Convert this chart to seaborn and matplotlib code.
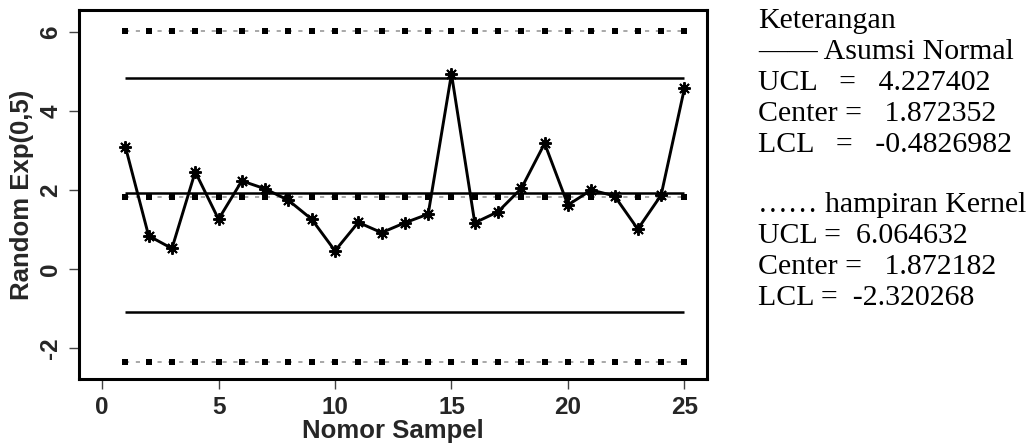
import numpy as np
import matplotlib
matplotlib.use("Agg")
import matplotlib.pyplot as plt
import seaborn as sns

# sample data
sampel = np.arange(1, 26)
nilai = [3.10, 0.84, 0.52, 2.46, 1.26, 2.23, 2.03, 1.74, 1.26, 0.46,
         1.18, 0.92, 1.17, 1.39, 4.94, 1.17, 1.45, 2.04, 3.18, 1.62,
         2.00, 1.85, 1.01, 1.87, 4.57]

# control limits as drawn
normal_limits = [4.83, 1.92, -1.09]     # UCL, center, LCL (solid)
kernel_limits = [6.03, 1.83, -2.35]     # UCL, center, LCL (dotted)

keterangan = ["Keterangan",
              "\u2014\u2014 Asumsi Normal",
              "UCL   =   4.227402",
              "Center =   1.872352",
              "LCL   =   -0.4826982",
              "\u2026\u2026 hampiran Kernel",
              "UCL =  6.064632",
              "Center =   1.872182",
              "LCL =  -2.320268"]

sns.set_style("white")
plt.rcParams['font.family'] = ['Liberation Sans', 'DejaVu Sans']
plt.rcParams['axes.unicode_minus'] = False

fig = plt.figure(figsize=(10.34, 4.48), dpi=100)
ax = fig.add_axes([79/1034, 1-379/448, (707-79)/1034, (379-10)/448])

# kernel limits: gray dashes with black squares at each sample
for v in kernel_limits:
    ax.hlines(v, sampel[0], sampel[-1], colors="#999999", linestyles=(0, (2.5, 4)), linewidth=1.2, zorder=2)
    ax.scatter(sampel, np.full(len(sampel), v), marker="s", s=14, color="black", linewidths=0, zorder=3)

# normal limits: solid lines
for v in normal_limits:
    ax.hlines(v, sampel[0], sampel[-1], colors="black", linewidth=1.8, zorder=4)

sns.lineplot(x=sampel, y=nilai, ax=ax, color="black", linewidth=2.1,
             marker=(8, 2, 0), markersize=9, markeredgewidth=1.4,
             markeredgecolor="black", zorder=5)

ax.set_xlim(-0.99, 25.97)
ax.set_ylim(-2.785, 6.557)
ax.set_xticks([0, 5, 10, 15, 20, 25])
ax.set_yticks([-2, 0, 2, 4, 6])
ax.tick_params(axis="both", which="both", direction="out", length=7, width=1,
               color="#444444", labelsize=17.5, pad=5,
               bottom=True, left=True, top=False, right=False)
for lab in ax.get_xticklabels():
    lab.set_fontweight("bold")
for lab in ax.get_yticklabels():
    lab.set_fontweight("bold")
    lab.set_rotation(90)
    lab.set_va("center")
for sp in ax.spines.values():
    sp.set_visible(True)
    sp.set_color("black")
    sp.set_linewidth(2.2)

ax.set_xlabel("Nomor Sampel", fontsize=18.5, fontweight="bold", labelpad=0)
ax.set_ylabel("Random Exp(0,5)", fontsize=18.5, fontweight="bold", labelpad=4)

# legend-like notes on the right
baselines = [28, 59, 90, 121, 152, 212, 243, 274, 305]
for txt, yb in zip(keterangan, baselines):
    fig.text(758/1034, 1 - yb/448, txt, family=["Liberation Serif", "DejaVu Serif"],
             fontsize=21.5, va="baseline", ha="left", color="black")

fig.savefig("out.png", dpi=100)
